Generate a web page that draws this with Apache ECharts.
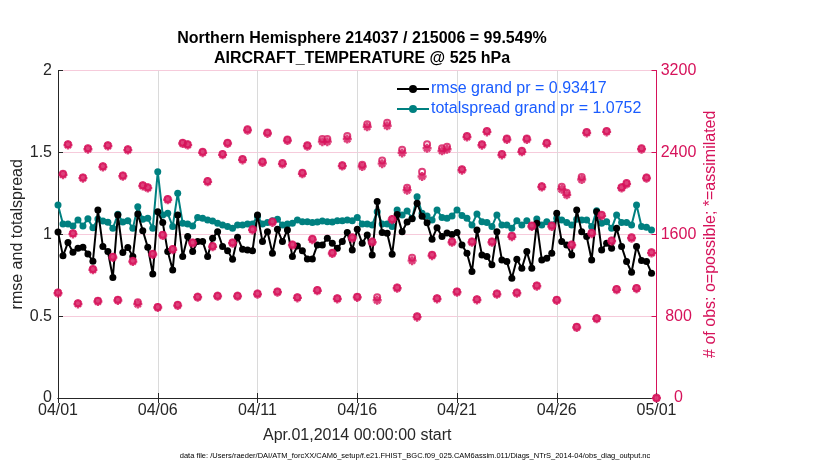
<!DOCTYPE html>
<html>
<head>
<meta charset="utf-8">
<script src="https://cdn.jsdelivr.net/npm/echarts@6/dist/echarts.min.js"></script>
<style>
html,body{margin:0;padding:0;background:#fff;}
#c{width:830px;height:470px;}
</style>
</head>
<body>
<div id="c"></div>
<script>
// ---- data ----
const tickLabels = ['04/01','04/06','04/11','04/16','04/21','04/26','05/01'];
const rmse = [1.014,0.868,0.949,0.890,0.914,0.921,0.880,0.835,1.148,0.925,
0.894,0.736,1.118,0.888,0.919,0.864,1.124,1.022,0.921,0.758,
1.138,1.071,0.894,0.782,1.118,0.864,0.986,0.894,0.955,0.955,
0.864,0.975,1.016,0.925,0.900,0.847,0.981,0.908,0.904,0.900,
1.118,0.955,1.016,0.884,1.030,0.955,1.026,0.864,0.929,0.900,
0.849,0.849,0.935,0.935,0.975,0.945,0.914,0.955,1.010,0.904,
1.030,0.945,0.996,0.874,1.200,1.010,1.006,0.878,1.120,1.016,
1.075,1.095,1.190,1.110,1.070,0.970,1.040,0.986,1.008,0.998,
1.010,0.935,0.884,0.772,1.026,0.874,0.864,0.813,1.016,0.843,
0.833,0.731,0.847,0.792,0.894,0.792,1.067,0.843,0.853,0.884,
1.128,0.955,0.935,0.874,1.148,1.016,0.986,0.843,1.138,0.904,
0.945,0.914,1.036,0.925,0.833,0.768,0.925,0.839,0.833,0.762,null];
const totalspread = [1.179,1.063,1.063,1.051,1.087,1.051,1.095,1.040,1.093,1.081,
1.073,1.036,1.122,1.075,1.083,1.036,1.168,1.091,1.097,1.036,
1.382,1.118,1.128,1.047,1.250,1.067,1.063,1.051,1.103,1.097,
1.087,1.081,1.067,1.057,1.047,1.036,1.057,1.057,1.063,1.063,
1.108,1.063,1.071,1.083,1.091,1.057,1.063,1.067,1.087,1.077,
1.077,1.071,1.075,1.081,1.077,1.075,1.083,1.083,1.087,1.083,
1.103,1.063,1.063,1.057,1.138,1.063,1.063,1.047,1.148,1.118,
1.142,1.097,1.229,1.128,1.112,1.087,1.148,1.103,1.097,1.112,
1.148,1.114,1.097,1.057,1.124,1.077,1.071,1.047,1.118,1.057,
1.057,1.036,1.083,1.057,1.083,1.047,1.093,1.057,1.077,1.057,
1.097,1.087,1.071,1.057,1.091,1.087,1.087,1.047,1.144,1.067,
1.077,1.036,1.118,1.071,1.071,1.057,1.179,1.047,1.043,1.026,null];
const nPossible = [1030,2190,2480,1610,925,2155,2440,1260,950,2265,
2470,1380,960,2175,2430,1340,935,2080,2060,1410,
890,1595,1945,1455,910,2495,2480,1520,990,2405,
2120,1485,1000,2385,2495,1520,1000,2335,2625,1650,
1020,2310,2595,1725,1040,2295,2525,1500,985,2200,
2470,1555,1055,2530,2530,1420,975,2275,2560,1570,
990,2280,2675,1530,985,2320,2690,1750,1080,2425,
2055,1370,800,2210,2480,1400,975,2440,2455,1530,
1040,2235,2560,1530,965,2480,2610,1530,1020,2385,
2535,1585,1030,2415,2535,1685,1100,2070,2495,1685,
960,2065,2005,1500,695,2160,2600,1615,780,1790,
2610,1540,1065,2060,2100,1570,1075,2440,2155,1425,0];
const nAssimilated = [1024,2182,2472,1603,919,2148,2431,1253,943,2257,
2462,1373,953,2166,2422,1333,918,2072,2051,1402,
884,1588,1937,1448,903,2486,2471,1512,984,2397,
2112,1478,993,2376,2486,1512,993,2326,2615,1642,
1013,2300,2585,1716,1033,2286,2515,1492,978,2191,
2460,1547,1048,2505,2505,1412,968,2266,2530,1561,
983,2262,2650,1521,955,2290,2660,1741,1072,2395,
2030,1342,790,2165,2440,1391,968,2415,2430,1521,
1033,2226,2550,1521,958,2470,2600,1521,1013,2375,
2525,1576,1023,2405,2525,1676,1092,2061,2485,1676,
953,2040,1985,1492,689,2135,2590,1606,774,1780,
2600,1531,1058,2051,2090,1561,1068,2430,2146,1416,0];

// 6-hourly time categories starting Apr.01,2014 00:00
const categories = [];
const t0 = Date.UTC(2014,3,1,0,0,0);
for (let i = 0; i < rmse.length; i++) {
  const d = new Date(t0 + i*6*3600*1000);
  const mm = String(d.getUTCMonth()+1).padStart(2,'0');
  const dd = String(d.getUTCDate()).padStart(2,'0');
  const hh = String(d.getUTCHours()).padStart(2,'0');
  categories.push(mm + '/' + dd + ' ' + hh);
}

const FONT = "'Liberation Sans', Arial, Helvetica, sans-serif";
const PINK = '#d6125a';
const TEAL = '#008080';
const isMajor = function (idx) { return idx % 20 === 0; };

const chart = echarts.init(document.getElementById('c'), null, {renderer:'canvas'});
chart.setOption({
  animation: false,
  backgroundColor: '#fff',
  textStyle: {fontFamily: FONT},
  title: {
    text: 'Northern Hemisphere 214037 / 215006 = 99.549%\nAIRCRAFT_TEMPERATURE @ 525 hPa',
    left: 357, top: 24, textAlign: 'center',
    textStyle: {fontFamily: FONT, fontSize: 16, fontWeight: 'bold', color: '#000', lineHeight: 20}
  },
  legend: {
    data: ['rmse grand pr = 0.93417', 'totalspread grand pr = 1.0752'],
    orient: 'vertical', left: 391, top: 76,
    itemWidth: 32, itemHeight: 10, itemGap: 4,
    textStyle: {fontFamily: FONT, fontSize: 16, color: '#1a5cff', padding: [0,0,0,-3]}
  },
  grid: {left: 58, right: 173.5, top: 70.5, bottom: 72, containLabel: false},
  xAxis: [{
    type: 'category', data: categories, boundaryGap: false,
    name: 'Apr.01,2014 00:00:00 start', nameLocation: 'middle', nameGap: 30,
    nameTextStyle: {fontFamily: FONT, fontSize: 16, color: '#262626'},
    axisLine: {lineStyle: {color: '#262626', width: 1}},
    axisTick: {inside: true, length: 5, interval: isMajor, lineStyle: {color: '#262626'}},
    axisLabel: {interval: isMajor, fontSize: 16, color: '#262626', margin: 5,
      formatter: function (v, idx) { return tickLabels[idx / 20]; }},
    splitLine: {show: true, interval: isMajor, lineStyle: {color: '#dadada', width: 1}}
  }, {
    type: 'category', data: categories, boundaryGap: false, position: 'top',
    axisLine: {lineStyle: {color: '#262626', width: 1}},
    axisTick: {inside: true, length: 5, interval: isMajor, lineStyle: {color: '#262626'}},
    axisLabel: {show: false}, splitLine: {show: false}
  }],
  yAxis: [{
    type: 'value', min: 0, max: 2, interval: 0.5, position: 'left',
    name: 'rmse and totalspread', nameLocation: 'middle', nameGap: 32, nameRotate: 90,
    nameMoveOverlap: false,
    nameTextStyle: {fontFamily: FONT, fontSize: 16, color: '#262626'},
    axisLine: {show: true, lineStyle: {color: '#262626', width: 1}},
    axisTick: {show: true, inside: true, length: 5, lineStyle: {color: '#262626'}},
    axisLabel: {fontSize: 16, color: '#262626', margin: 6},
    splitLine: {show: false}
  }, {
    type: 'value', min: 0, max: 3200, interval: 800, position: 'right',
    name: '# of obs: o=possible; *=assimilated', nameLocation: 'middle', nameGap: 46, nameRotate: 90,
    nameMoveOverlap: false,
    nameTextStyle: {fontFamily: FONT, fontSize: 16, color: PINK},
    axisLine: {show: true, lineStyle: {color: PINK, width: 1}},
    axisTick: {show: true, inside: true, length: 5, lineStyle: {color: PINK}},
    axisLabel: {fontSize: 16, color: PINK, margin: 22, align: 'center',
      formatter: function (v) { return String(v); }},
    splitLine: {show: true, lineStyle: {color: 'rgba(214,18,90,0.22)', width: 1}}
  }],
  graphic: [{
    type: 'text', left: 'center', top: 452,
    style: {text: 'data file: /Users/raeder/DAI/ATM_forcXX/CAM6_setup/f.e21.FHIST_BGC.f09_025.CAM6assim.011/Diags_NTrS_2014-04/obs_diag_output.nc',
      x: 402, textAlign: 'center', fontFamily: FONT, fontSize: 7.5, fill: '#000'}
  }],
  series: [{
    name: 'rmse grand pr = 0.93417', type: 'line', data: rmse,
    xAxisIndex: 0, yAxisIndex: 0,
    symbol: 'circle', symbolSize: 7, showSymbol: true, showAllSymbol: true,
    lineStyle: {color: '#000', width: 2},
    itemStyle: {color: '#000'}, z: 3
  }, {
    name: 'totalspread grand pr = 1.0752', type: 'line', data: totalspread,
    xAxisIndex: 0, yAxisIndex: 0,
    symbol: 'circle', symbolSize: 7, showSymbol: true, showAllSymbol: true,
    lineStyle: {color: TEAL, width: 2},
    itemStyle: {color: TEAL}, z: 2
  }, {
    name: 'possible', type: 'scatter', data: nPossible,
    xAxisIndex: 0, yAxisIndex: 1,
    symbol: 'emptyCircle', symbolSize: 6,
    itemStyle: {color: PINK, borderColor: PINK, borderWidth: 1.8}, z: 4
  }, {
    name: 'assimilated', type: 'scatter', data: nAssimilated,
    xAxisIndex: 0, yAxisIndex: 1,
    symbol: 'path://M5,0L5,10M0,5L10,5M1.6,1.6L8.4,8.4M1.6,8.4L8.4,1.6', symbolSize: 9,
    itemStyle: {color: 'none', borderColor: PINK, borderWidth: 2.4}, z: 5
  }]
});
</script>
</body>
</html>
